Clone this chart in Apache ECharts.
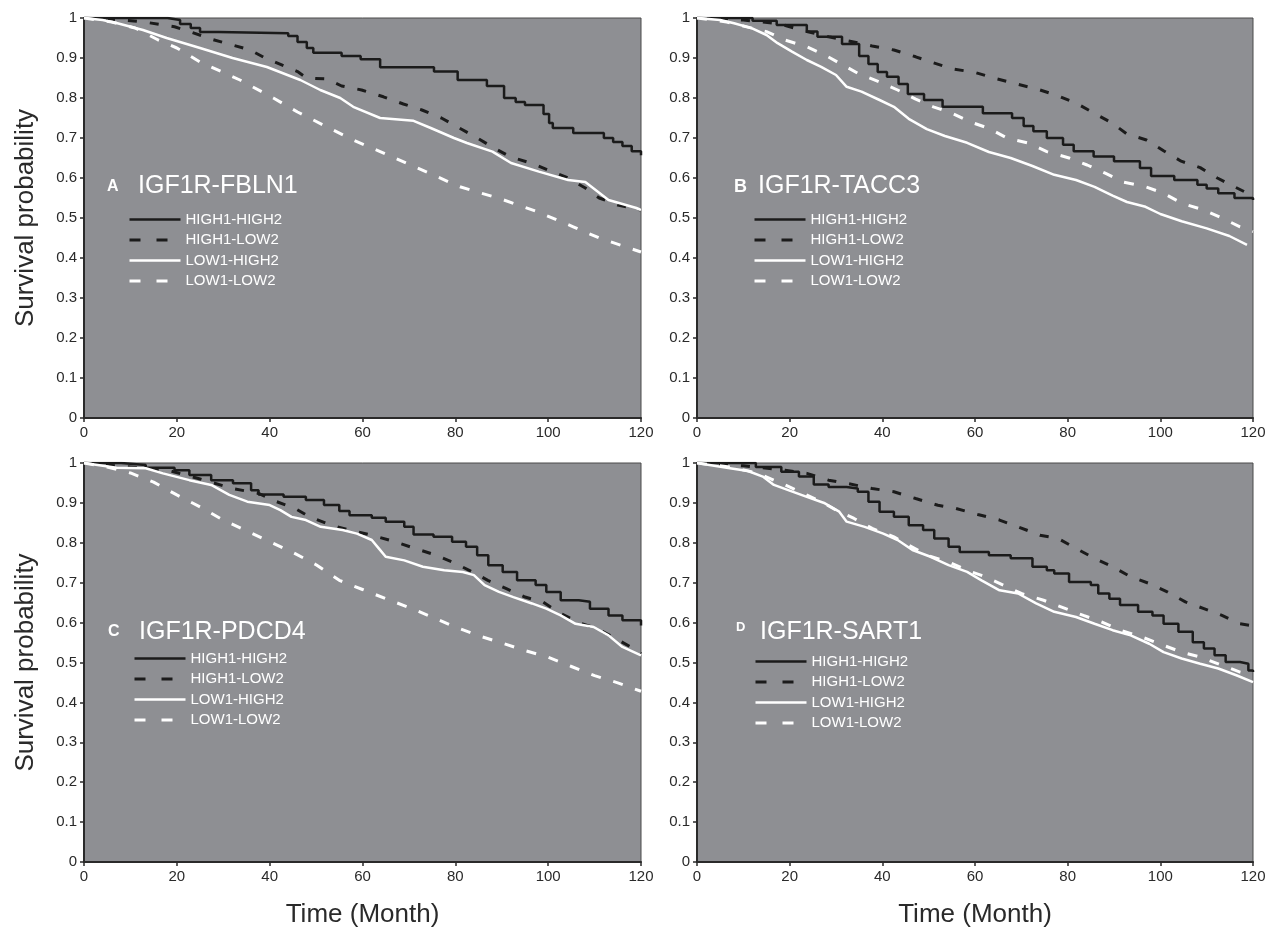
<!DOCTYPE html>
<html>
<head>
<meta charset="utf-8">
<script src="https://cdn.jsdelivr.net/npm/echarts@6/dist/echarts.min.js"></script>
<style>
html,body{margin:0;padding:0;background:#fff;}
#chart{width:1276px;height:929px;}
</style>
</head>
<body>
<div id="chart"></div>
<script>
// ---------- data ----------
const timeTicks = [0, 20, 40, 60, 80, 100, 120];
const panelLetters = ['A', 'B', 'C', 'D'];
const panelTitles = ['IGF1R-FBLN1', 'IGF1R-TACC3', 'IGF1R-PDCD4', 'IGF1R-SART1'];
const groupNames = ['HIGH1-HIGH2', 'HIGH1-LOW2', 'LOW1-HIGH2', 'LOW1-LOW2'];
const yAxisName = 'Survival probability';
const xAxisName = 'Time (Month)';

// Panel A: IGF1R-FBLN1
const A_HH = [[0,1],[18,0.995],[20.7,0.985],[23,0.975],[25,0.965],[29,0.962],[44,0.955],[46,0.94],[48,0.925],[49.4,0.913],[55.5,0.905],[59.6,0.897],[63.8,0.877],[75.4,0.866],[80.5,0.845],[86.8,0.83],[90.5,0.80],[93,0.79],[95,0.7825],[99,0.76],[100.2,0.7375],[101,0.725],[105.4,0.7125],[112,0.70],[114,0.69],[116,0.68],[118,0.667],[120,0.657]];
const A_HL = [[0,1],[8,0.995],[13,0.99],[19.5,0.978],[22.8,0.966],[27.5,0.947],[35.8,0.92],[39,0.90],[46,0.866],[48,0.85],[52.3,0.8475],[55.5,0.83],[59.8,0.82],[64.5,0.803],[68.8,0.785],[72.8,0.77],[77,0.75],[80.7,0.726],[84.3,0.703],[87.9,0.678],[91.8,0.653],[96.1,0.638],[100,0.62],[104.3,0.60],[108,0.575],[111,0.55],[115,0.5325],[120,0.52]];
const A_LH = [[0,1],[4,0.995],[7,0.9875],[12.7,0.97],[17.8,0.95],[25,0.925],[32,0.90],[39.4,0.8775],[46.6,0.845],[50.9,0.82],[55.2,0.80],[58,0.778],[63.8,0.75],[71,0.743],[74.7,0.725],[79.7,0.70],[82.5,0.6875],[88,0.666],[92,0.6375],[98,0.616],[104.3,0.595],[108,0.59],[113,0.545],[119,0.525],[120,0.52]];
const A_LL = [[0,1],[6,0.99],[11,0.975],[16,0.945],[20,0.925],[25,0.89],[33.6,0.845],[40.8,0.80],[46,0.765],[52.3,0.728],[58,0.695],[63.8,0.666],[72.4,0.622],[81,0.578],[89.7,0.548],[97.6,0.516],[105.4,0.478],[111,0.45],[120,0.415]];

// Panel B: IGF1R-TACC3
const B_HH = [[0,1],[12,0.993],[17.2,0.9825],[23.7,0.966],[26,0.953],[31.3,0.935],[35,0.905],[37,0.885],[39,0.865],[41,0.853],[43.5,0.835],[45.5,0.81],[49,0.795],[53,0.778],[61.7,0.762],[68,0.75],[70.5,0.73],[72.6,0.717],[75.5,0.70],[79,0.683],[81.3,0.667],[85.6,0.654],[90,0.642],[95.6,0.625],[98,0.605],[103,0.595],[108,0.583],[110,0.574],[112.5,0.562],[116,0.55],[120,0.545]];
const B_HL = [[0,1],[10,0.995],[18,0.985],[23,0.968],[28.4,0.953],[33,0.942],[37.8,0.93],[42.5,0.92],[47.2,0.903],[51,0.888],[55,0.873],[60,0.864],[64,0.85],[69,0.835],[73.5,0.822],[77.8,0.806],[82,0.786],[85.7,0.762],[89.5,0.738],[92.8,0.71],[97,0.695],[100.7,0.668],[104.5,0.642],[108.6,0.626],[112.3,0.6],[116,0.578],[120,0.555]];
const B_LH = [[0,1],[5,0.995],[8,0.987],[11.9,0.974],[15,0.9575],[17.4,0.937],[20.5,0.916],[23.7,0.895],[26.8,0.878],[30,0.8575],[32.3,0.828],[35.5,0.816],[39.4,0.795],[42.5,0.778],[45.7,0.748],[49.6,0.722],[53.5,0.705],[58.3,0.688],[63,0.665],[67.7,0.65],[72.4,0.63],[77.1,0.608],[81.8,0.595],[85.8,0.578],[89.7,0.556],[92.8,0.54],[96.8,0.528],[100,0.51],[104.6,0.492],[110,0.474],[114.9,0.455],[118.7,0.433]];
const B_LL = [[0,1],[6.4,0.99],[15,0.966],[19,0.945],[23.7,0.928],[27.6,0.9075],[31.5,0.8825],[34.7,0.862],[39.4,0.84],[43.3,0.82],[47.2,0.797],[51,0.778],[55,0.762],[59,0.74],[63,0.724],[66.9,0.70],[71.6,0.687],[75.5,0.666],[80.3,0.65],[84.2,0.6325],[88.1,0.612],[92,0.59],[96.8,0.578],[100.7,0.562],[104.6,0.537],[109.4,0.52],[113.3,0.50],[117.2,0.478],[120,0.466]];

// Panel C: IGF1R-PDCD4
const C_HH = [[0,1],[8,0.995],[13.3,0.988],[19.5,0.982],[22.7,0.97],[27.4,0.957],[32.1,0.949],[36,0.932],[37.6,0.921],[43,0.9155],[47.8,0.907],[51.7,0.8945],[55,0.88],[57.2,0.869],[62,0.863],[65,0.853],[69,0.84],[71,0.821],[75.3,0.815],[79.3,0.8025],[82.3,0.79],[84.7,0.769],[87.1,0.744],[90.2,0.727],[93.3,0.706],[97.3,0.694],[99.6,0.677],[102.7,0.656],[106.6,0.652],[109,0.635],[113,0.618],[116,0.606],[120,0.593]];
const C_HL = [[0,1],[10,0.99],[18,0.982],[25,0.96],[32,0.936],[37.6,0.924],[41.5,0.903],[45.5,0.886],[48.6,0.865],[53.3,0.844],[57.2,0.832],[62,0.819],[66.6,0.804],[71,0.787],[75.3,0.771],[79.3,0.752],[83,0.731],[87,0.706],[91,0.685],[95,0.664],[98.8,0.652],[102.7,0.623],[106.6,0.60],[110.6,0.585],[114.5,0.56],[118.4,0.535],[120,0.522]];
const C_LH = [[0,1],[7,0.988],[13.3,0.987],[17,0.974],[22.7,0.957],[27.4,0.945],[31.3,0.92],[35.2,0.903],[40,0.8945],[42.3,0.882],[44.7,0.865],[47.8,0.857],[51,0.84],[55.7,0.832],[58.8,0.823],[62,0.807],[63.5,0.786],[65,0.765],[69,0.756],[73,0.74],[77.6,0.731],[81.6,0.727],[84,0.719],[86.3,0.694],[89.4,0.677],[92.5,0.664],[96.5,0.648],[99.6,0.635],[102.7,0.618],[105.9,0.597],[109.8,0.589],[113,0.568],[116,0.539],[120,0.518]];
const C_LL = [[0,1],[5,0.99],[10,0.975],[15,0.952],[20,0.92],[25,0.89],[30,0.857],[35,0.83],[40,0.803],[45,0.776],[50,0.745],[55,0.706],[60,0.683],[65,0.66],[70,0.638],[75,0.614],[80,0.589],[85,0.567],[90,0.549],[95,0.53],[100,0.513],[105,0.49],[110,0.467],[115,0.449],[120,0.428]];

// Panel D: IGF1R-SART1
const D_HH = [[0,1],[12.7,0.99],[18.2,0.978],[22,0.966],[25.2,0.946],[28.4,0.94],[32.3,0.936],[34.7,0.928],[37,0.903],[39.4,0.878],[42.5,0.865],[45.7,0.844],[48.8,0.832],[51.2,0.811],[54.3,0.79],[56.7,0.777],[63,0.769],[67.7,0.761],[72.4,0.74],[75.5,0.731],[77.1,0.723],[80.3,0.702],[85,0.694],[86.6,0.673],[89,0.66],[91.3,0.644],[95.2,0.627],[98.3,0.618],[100.7,0.597],[103.9,0.577],[107,0.551],[109.4,0.535],[111.7,0.518],[114.1,0.501],[117.2,0.497],[119,0.48],[120,0.476]];
const D_HL = [[0,1],[10,0.993],[14.2,0.988],[19,0.982],[23.7,0.974],[28.4,0.957],[32.3,0.949],[37.8,0.936],[42.5,0.928],[47.2,0.911],[52,0.894],[55.9,0.886],[60.6,0.871],[65.3,0.857],[69.3,0.84],[74,0.819],[77.9,0.811],[81.8,0.786],[85.8,0.761],[89.7,0.74],[93.6,0.715],[97.6,0.698],[101.5,0.677],[105.4,0.652],[109.4,0.635],[113.3,0.618],[117.2,0.597],[119.5,0.593]];
const D_LH = [[0,1],[6.4,0.988],[11,0.98],[14.2,0.966],[16.6,0.945],[19.7,0.932],[23.7,0.915],[27.6,0.899],[30.7,0.878],[32.3,0.853],[36.2,0.84],[40.2,0.823],[43.3,0.807],[46.5,0.782],[50.4,0.765],[54.3,0.744],[58.3,0.727],[61.4,0.706],[65.3,0.681],[69.3,0.673],[73.2,0.648],[77.1,0.627],[81.8,0.614],[85.8,0.597],[89.7,0.581],[93.6,0.568],[97.6,0.547],[100.7,0.526],[104.6,0.51],[108.6,0.497],[112.5,0.485],[116.4,0.468],[120,0.451]];
const D_LL = [[0,1],[7,0.99],[13,0.975],[19,0.945],[22.9,0.924],[26.8,0.903],[30,0.882],[33.9,0.861],[37.8,0.836],[42.5,0.815],[45.7,0.794],[49.6,0.769],[54.3,0.752],[58.3,0.731],[62.2,0.715],[66.1,0.694],[70,0.673],[74.8,0.656],[78.7,0.639],[83.4,0.618],[87.3,0.602],[91.3,0.581],[96,0.564],[100.7,0.543],[104.6,0.526],[108.6,0.514],[113.3,0.493],[117.2,0.476],[120,0.468]];

const panelData = [
  [A_HH, A_HL, A_LH, A_LL],
  [B_HH, B_HL, B_LH, B_LL],
  [C_HH, C_HL, C_LH, C_LL],
  [D_HH, D_HL, D_LH, D_LL]
];

// ---------- layout / style ----------
const FONT = '"Liberation Sans", Arial, Helvetica, sans-serif';
const INK = '#2a2a2a';
const PLOT_BG = '#8e8f93';
const grids = [
  {left: 84, top: 18, width: 557, height: 400},
  {left: 697, top: 18, width: 556, height: 400},
  {left: 84, top: 463, width: 557, height: 399},
  {left: 697, top: 463, width: 556, height: 399}
];
const legendPos = [
  {left: 128, top: 212},
  {left: 753, top: 212},
  {left: 133, top: 651},
  {left: 754, top: 654}
];
const letterPos = [
  {left: 107, top: 179, fontSize: 16, fontWeight: 'bold'},
  {left: 734, top: 178, fontSize: 18, fontWeight: 'bold'},
  {left: 108, top: 624, fontSize: 16, fontWeight: 'bold'},
  {left: 736, top: 621, fontSize: 13, fontWeight: 'bold'}
];
const titlePos = [
  {left: 138, top: 174},
  {left: 758, top: 174},
  {left: 139, top: 620},
  {left: 760, top: 620}
];
const seriesStyles = [
  {color: '#1b1b1b', width: 2.5, type: 'solid', step: 'end'},
  {color: '#1b1b1b', width: 3, type: [9, 13], step: false},
  {color: '#ffffff', width: 2.5, type: 'solid', step: false},
  {color: '#ffffff', width: 3, type: [10, 13], step: false}
];
const legendDash = [null, [11, 16], null, [11, 16]];

const option = {
  animation: false,
  backgroundColor: '#ffffff',
  textStyle: {fontFamily: FONT},
  grid: grids.map(g => Object.assign({}, g, {
    show: true, backgroundColor: PLOT_BG, borderColor: '#4a4a4a', borderWidth: 1, containLabel: false
  })),
  title: [],
  legend: [],
  xAxis: [],
  yAxis: [],
  series: []
};

const hiddenSymbol = {color: 'rgba(0,0,0,0)', borderColor: 'rgba(0,0,0,0)', borderWidth: 0, opacity: 0};

for (let p = 0; p < 4; p++) {
  option.title.push({
    text: panelLetters[p], left: letterPos[p].left, top: letterPos[p].top, padding: 0,
    textStyle: {color: '#ffffff', fontSize: letterPos[p].fontSize, fontWeight: letterPos[p].fontWeight, fontFamily: FONT}
  });
  option.title.push({
    text: panelTitles[p], left: titlePos[p].left, top: titlePos[p].top, padding: 0,
    textStyle: {color: '#ffffff', fontSize: 25, fontWeight: 'normal', fontFamily: FONT}
  });
  option.legend.push({
    left: legendPos[p].left, top: legendPos[p].top, orient: 'vertical', padding: 0,
    itemWidth: 51, itemHeight: 14, itemGap: 5.5, selectedMode: false,
    textStyle: {color: '#ffffff', fontSize: 15, lineHeight: 14, fontFamily: FONT},
    itemStyle: hiddenSymbol,
    data: groupNames.map((n, i) => ({
      name: n,
      itemStyle: hiddenSymbol,
      lineStyle: legendDash[i] ? {type: legendDash[i], width: 3} : {width: 2.5}
    }))
  });
  const bottom = p >= 2;
  const left = p % 2 === 0;
  option.xAxis.push({
    type: 'value', gridIndex: p, min: timeTicks[0], max: timeTicks[timeTicks.length - 1],
    interval: timeTicks[1] - timeTicks[0],
    name: bottom ? xAxisName : '', nameLocation: 'middle', nameGap: 40,
    nameTextStyle: {fontSize: 26, color: INK, fontFamily: FONT},
    axisLine: {show: true, onZero: false, lineStyle: {color: INK, width: 2}},
    axisTick: {show: true, inside: false, length: 4, lineStyle: {color: INK, width: 1.5}},
    axisLabel: {fontSize: 15, color: INK, margin: 7, fontFamily: FONT},
    splitLine: {show: false}
  });
  option.yAxis.push({
    type: 'value', gridIndex: p, min: 0, max: 1, interval: 0.1,
    name: left ? yAxisName : '', nameLocation: 'middle', nameGap: 45,
    nameTextStyle: {fontSize: 26, color: INK, fontFamily: FONT},
    axisLine: {show: true, onZero: false, lineStyle: {color: INK, width: 2}},
    axisTick: {show: true, inside: false, length: 4, lineStyle: {color: INK, width: 1.5}},
    axisLabel: {fontSize: 15, color: INK, margin: 7, fontFamily: FONT,
      formatter: v => String(Math.round(v * 10) / 10)},
    splitLine: {show: false}
  });
  for (let s = 0; s < 4; s++) {
    const st = seriesStyles[s];
    option.series.push({
      name: groupNames[s], type: 'line', xAxisIndex: p, yAxisIndex: p,
      data: panelData[p][s], step: st.step, symbol: 'none', showSymbol: false,
      lineStyle: {color: st.color, width: st.width, type: st.type},
      itemStyle: {color: st.color},
      clip: true, z: 2 + s
    });
  }
}

const chart = echarts.init(document.getElementById('chart'), null, {renderer: 'canvas'});
chart.setOption(option);
</script>
</body>
</html>
